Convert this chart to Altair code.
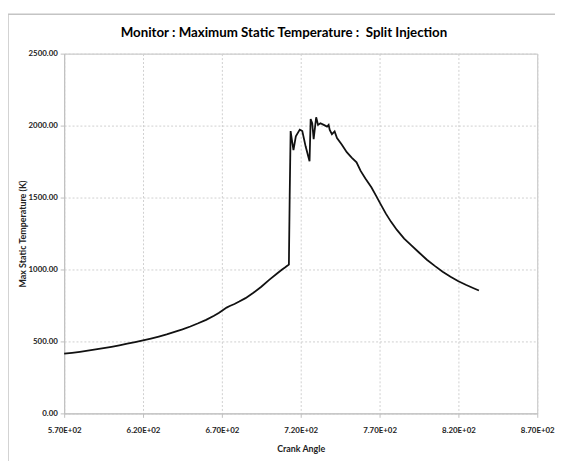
import altair as alt
import pandas as pd

# ---- data ----
crank_angle = [570, 575, 580, 585, 590, 595, 600, 605, 610, 615, 620, 625, 630, 635,
               640, 645, 650, 655, 660, 665, 668, 671, 673, 675, 678, 681, 685, 690,
               695, 700, 705, 708, 710, 712.5, 713.0, 713.6, 714.4, 715.4,
               716.9, 719.4, 721.0, 723.1, 725.6, 726.3, 727.3, 728.2, 729.8, 731.0,
               732.5, 734.6, 736.7, 737.7, 738.4, 739.8, 741.5, 743.0, 746.0, 749.2,
               752.3, 755.4, 758.0, 761.0, 764.8, 768.0, 771.0, 774.0, 777.3, 781.0,
               785.6, 790.0, 795.0, 800.0, 805.0, 810.0, 815.0, 820.0, 825.0, 830.0,
               833.0]
max_temp = [415, 421, 428, 436, 444, 453, 463, 473, 484, 495, 507, 520, 534, 549,
            566, 584, 604, 626, 650, 678, 697, 720, 735, 746, 760, 777, 801, 838,
            880, 928, 972, 998, 1014, 1035, 1500, 1962, 1900, 1830,
            1925, 1972, 1962, 1856, 1752, 2045, 2016, 1905, 2058, 2005,
            2016, 2005, 1993, 2005, 1970, 1940, 1959, 1913, 1868, 1815,
            1778, 1745, 1685, 1632, 1571, 1508, 1447, 1388, 1331, 1275,
            1215, 1170, 1118, 1068, 1025, 985, 950, 918, 892, 868,
            854]

title_text = ["Monitor : Maximum Static Temperature :\u00a0 Split Injection"]
x_title = "Crank Angle"
y_title = "Max Static Temperature (K)"
x_ticks = [570, 620, 670, 720, 770, 820, 870]
y_ticks = [0, 500, 1000, 1500, 2000, 2500]

df = pd.DataFrame({"angle": crank_angle, "temp": max_temp,
                   "order": list(range(len(crank_angle)))})
title_df = pd.DataFrame({"t": title_text})

FONT = "Lato, Roboto, sans-serif"
FRAME = "#c4c4c4"

line = alt.Chart(df).mark_line(color="#111111", strokeWidth=1.8).encode(
    x=alt.X("angle:Q", title=x_title,
            scale=alt.Scale(domain=[570, 870], nice=False, zero=False),
            axis=alt.Axis(values=x_ticks, labelFlush=False,
                          labelExpr="replace(format(datum.value, '.2e'), 'e+', 'E+0')")),
    y=alt.Y("temp:Q", title=y_title,
            scale=alt.Scale(domain=[0, 2500], nice=False),
            axis=alt.Axis(values=y_ticks, format=".2f", labelFlush=False)),
    order="order:Q",
)

frame_left = alt.Chart(title_df).mark_rule(color=FRAME, strokeWidth=1.5).encode(
    x=alt.value(-57), y=alt.value(-40), y2=alt.value(420))
frame_top = alt.Chart(title_df).mark_rule(color=FRAME, strokeWidth=1.5).encode(
    x=alt.value(-57), x2=alt.value(500), y=alt.value(-40))

title_mark = alt.Chart(title_df).mark_text(
    font=FONT, fontSize=13.5, fontWeight="bold", color="#000000",
    align="center", baseline="middle").encode(
    text="t:N", x=alt.value(223), y=alt.value(-21))

chart = alt.layer(frame_left, frame_top, title_mark, line).properties(
    width=480, height=365,
    autosize=alt.AutoSizeParams(type="none"),
    padding={"left": 57, "top": 43, "right": 18, "bottom": 45},
).configure_view(stroke="#bfbfbf", strokeWidth=1).configure_axis(
    labelFont=FONT, titleFont=FONT, labelColor="#222222", titleColor="#222222",
    labelFontSize=8, titleFontSize=9, titleFontWeight="bold", labelFontWeight="bold",
    grid=True, gridColor="#cfcfcf", gridDash=[2, 2], gridWidth=1,
    domainColor="#bfbfbf", tickColor="#bfbfbf", tickSize=4,
).configure_axisX(labelPadding=9, titlePadding=11).configure_axisY(
    labelPadding=3, titlePadding=0)

chart.save("out.html", embed_options={"renderer": "svg", "actions": False})
